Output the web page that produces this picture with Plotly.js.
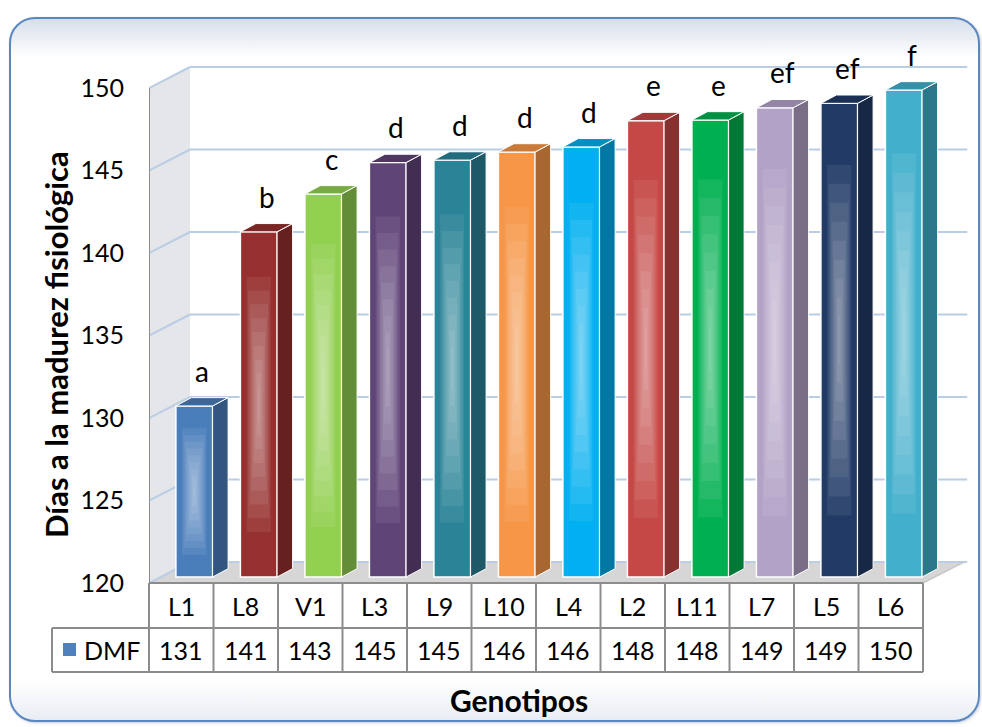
<!DOCTYPE html>
<html>
<head>
<meta charset="utf-8">
<script src="https://cdn.plot.ly/plotly-3.0.1.min.js"></script>
<style>
  html, body { margin:0; padding:0; background:#ffffff; }
  #wrap { position:relative; width:982px; height:727px; overflow:hidden; background:#ffffff; }
  #frame { position:absolute; left:9px; top:17px; width:967px; height:701px;
           border:2px solid #5b87c0; border-radius:26px;
           background:linear-gradient(to bottom, #d5deea 0px, #ffffff 38px, #ffffff 660px, #e9edf3 701px);
           box-shadow: 1px 1px 3px rgba(90,110,140,0.35); }
  #chart { position:absolute; left:0; top:0; width:982px; height:727px; }
</style>
</head>
<body>
<div id="wrap">
  <div id="frame"></div>
  <div id="chart"></div>
</div>
<script>
// ---------------- data ----------------
const categories = ['L1','L8','V1','L3','L9','L10','L4','L2','L11','L7','L5','L6'];
const dmfValues  = [130.55, 141.1, 143.4, 145.3, 145.45, 145.94, 146.25, 147.84, 147.88, 148.62, 148.89, 149.7];
const letters    = ['a','b','c','d','d','d','d','e','e','ef','ef','f'];
const yTickVals  = [120, 125, 130, 135, 140, 145, 150];
const seriesName = 'DMF';
const xTitle = 'Genotipos';
const yTitle = 'Días a la madurez fisiológica';

// ---------------- styles / geometry ----------------
const frontColors = ['#4a7ebb','#96302e','#92d050','#5f4478','#2a8397','#f79646',
                     '#00b0f0','#c44845','#00b050','#b3a2c7','#213b66','#42afcc'];
const FONT = 'Lato, "Open Sans", sans-serif';
const L = 149, T = 30, W = 821, H = 553;       // plot area in px
const colW = 64.5, pxU = 16.5;                 // px per category / per unit
const xr0 = -0.5, xr1 = -0.5 + W / colW;
const yr0 = 120, yr1 = 120 + H / pxU;
const dxW = 41 / colW, dyW = 21 / pxU;         // wall depth
const dxB = 15.5 / colW, dyB = 8.3 / pxU;      // bar depth
const barShift = 13 / colW, barW = 36.7 / colW;
const barBase = 120 + 6 / pxU, topShift = 3 / pxU;

function shade(hex, f) {
  const n = parseInt(hex.slice(1), 16);
  const r = Math.round(((n >> 16) & 255) * f), g = Math.round(((n >> 8) & 255) * f), b = Math.round((n & 255) * f);
  return 'rgb(' + r + ',' + g + ',' + b + ')';
}
const pxX = px => (px - L) / W;
const pxY = py => (T + H - py) / H;
const colX = c => (c - xr0) / (xr1 - xr0);

const xs = categories.map((c, i) => i + barShift);
const tops = dmfValues.map(v => v + topShift);

const traces = [];
// front faces
traces.push({
  type: 'bar', name: seriesName, x: xs, y: tops.map(t => t - barBase), base: barBase,
  width: barW, marker: { color: frontColors, line: { color: '#ffffff', width: 1.5 } },
  hoverinfo: 'skip', showlegend: false
});
// soft glow overlays
const nGlow = 9;
for (let k = 0; k < nGlow; k++) {
  const f = (k + 1) / nGlow;
  const gw = 0.7 * (1 - f) + 0.04;
  const gh = 0.36 * (1 - f) + 0.05;
  traces.push({
    type: 'bar', x: xs,
    base: tops.map(t => barBase + (t - barBase) * (0.5 - gh)),
    y: tops.map(t => (t - barBase) * 2 * gh),
    width: barW * gw,
    marker: { color: 'rgba(255,255,255,0.075)', line: { width: 0 } },
    hoverinfo: 'skip', showlegend: false
  });
}
// side and top faces
categories.forEach((c, i) => {
  const xl = xs[i] - barW / 2, xr = xs[i] + barW / 2, t = tops[i];
  traces.push({
    type: 'scatter', mode: 'lines', fill: 'toself', fillcolor: shade(frontColors[i], 0.68),
    x: [xr, xr, xr + dxB, xr + dxB, xr], y: [barBase, t, t + dyB, barBase + dyB, barBase],
    line: { color: '#ffffff', width: 1 }, hoverinfo: 'skip', showlegend: false
  });
  traces.push({
    type: 'scatter', mode: 'lines', fill: 'toself', fillcolor: shade(frontColors[i], 0.82),
    x: [xl, xr, xr + dxB, xl + dxB, xl], y: [t, t, t + dyB, t + dyB, t],
    line: { color: '#ffffff', width: 1 }, hoverinfo: 'skip', showlegend: false
  });
});

// ---------------- shapes ----------------
const shapes = [];
const xb0 = xr0 + dxW, xbR = categories.length - 0.5 + dxW;
// left wall
shapes.push({ type: 'path', xref: 'x', yref: 'y', layer: 'below',
  path: `M${xr0},${yr0} L${xr0},${150} L${xb0},${150 + dyW} L${xb0},${yr0 + dyW} Z`,
  fillcolor: '#e4e6e9', line: { width: 0 } });
// floor
shapes.push({ type: 'path', xref: 'x', yref: 'y', layer: 'below',
  path: `M${xr0},${yr0} L${categories.length - 0.5},${yr0} L${xbR},${yr0 + dyW} L${xb0},${yr0 + dyW} Z`,
  fillcolor: '#d6d6d6', line: { width: 0 } });
// gridlines on back wall + left wall diagonals
yTickVals.forEach(v => {
  shapes.push({ type: 'line', xref: 'x', yref: 'y', layer: 'below',
    x0: xb0, x1: xbR + 0.05, y0: v + dyW, y1: v + dyW, line: { color: '#b9cde5', width: 2 } });
  shapes.push({ type: 'line', xref: 'x', yref: 'y', layer: 'below',
    x0: xr0, x1: xb0, y0: v, y1: v + dyW, line: { color: '#b9cde5', width: 2 } });
});
// floor right edge
shapes.push({ type: 'line', xref: 'x', yref: 'y', layer: 'below',
  x0: categories.length - 0.5, x1: xbR, y0: yr0, y1: yr0 + dyW, line: { color: '#c8c8c8', width: 1.5 } });
// front left axis edge
shapes.push({ type: 'line', xref: 'x', yref: 'y', layer: 'below',
  x0: xr0, x1: xr0, y0: yr0, y1: 150, line: { color: '#8c8c8c', width: 2 } });

// data table
const tGray = { color: '#8c8c8c', width: 2 };
const rowTop = pxY(583), rowMid = pxY(628), rowBot = pxY(672);
const tabL = colX(-0.5), tabR = colX(categories.length - 0.5), legL = pxX(52);
shapes.push({ type: 'line', xref: 'paper', yref: 'paper', x0: tabL, x1: tabR, y0: rowTop, y1: rowTop, line: tGray });
shapes.push({ type: 'line', xref: 'paper', yref: 'paper', x0: legL, x1: tabR, y0: rowMid, y1: rowMid, line: tGray });
shapes.push({ type: 'line', xref: 'paper', yref: 'paper', x0: legL, x1: tabR, y0: rowBot, y1: rowBot, line: tGray });
shapes.push({ type: 'line', xref: 'paper', yref: 'paper', x0: legL, x1: legL, y0: rowMid, y1: rowBot, line: tGray });
for (let c = 0; c <= categories.length; c++) {
  const xp = colX(c - 0.5);
  shapes.push({ type: 'line', xref: 'paper', yref: 'paper', x0: xp, x1: xp, y0: rowTop, y1: rowBot, line: tGray });
}
// legend key
shapes.push({ type: 'rect', xref: 'paper', yref: 'paper', x0: pxX(63), x1: pxX(76), y0: pxY(643), y1: pxY(656),
  fillcolor: '#4f81bd', line: { width: 0 } });

// ---------------- annotations ----------------
const annotations = [];
const tFont = { family: FONT, size: 25, color: '#000' };
categories.forEach((c, i) => {
  annotations.push({ xref: 'x', yref: 'paper', x: i, y: pxY(606), text: c, showarrow: false,
    font: tFont, xanchor: 'center', yanchor: 'middle' });
  annotations.push({ xref: 'x', yref: 'paper', x: i, y: pxY(650), text: String(Math.round(dmfValues[i])), showarrow: false,
    font: tFont, xanchor: 'center', yanchor: 'middle' });
  annotations.push({ xref: 'x', yref: 'y', x: xs[i] + dxB / 2, y: tops[i] + dyB, yshift: 8, text: letters[i],
    showarrow: false, font: { family: FONT, size: 28, color: '#000' }, xanchor: 'center', yanchor: 'bottom' });
});
annotations.push({ xref: 'paper', yref: 'paper', x: pxX(82), y: pxY(650), text: seriesName, showarrow: false,
  font: tFont, xanchor: 'left', yanchor: 'middle' });
annotations.push({ xref: 'paper', yref: 'paper', x: pxX(519), y: pxY(700), text: '<b>' + xTitle + '</b>', showarrow: false,
  font: { family: FONT, size: 30, color: '#000' }, xanchor: 'center', yanchor: 'middle' });
annotations.push({ xref: 'paper', yref: 'paper', x: pxX(56), y: pxY(345), text: '<b>' + yTitle + '</b>', showarrow: false,
  textangle: -90, font: { family: FONT, size: 31, color: '#000' }, xanchor: 'center', yanchor: 'middle' });

const layout = {
  width: 982, height: 727,
  margin: { l: L, r: 982 - L - W, t: T, b: 727 - T - H, pad: 0 },
  paper_bgcolor: 'rgba(0,0,0,0)', plot_bgcolor: 'rgba(0,0,0,0)',
  barmode: 'overlay', showlegend: false,
  xaxis: { range: [xr0, xr1], showgrid: false, zeroline: false, showline: false,
           showticklabels: false, ticks: '', fixedrange: true },
  yaxis: { range: [yr0, yr1], tickvals: yTickVals, ticktext: yTickVals.map(String),
           showgrid: false, zeroline: false, showline: false, ticks: '',
           ticklabelstandoff: 24, tickfont: { family: FONT, size: 25, color: '#000' }, fixedrange: true },
  shapes: shapes, annotations: annotations,
  font: { family: FONT }
};

Plotly.newPlot('chart', traces, layout, { displayModeBar: false, staticPlot: true });
</script>
</body>
</html>
